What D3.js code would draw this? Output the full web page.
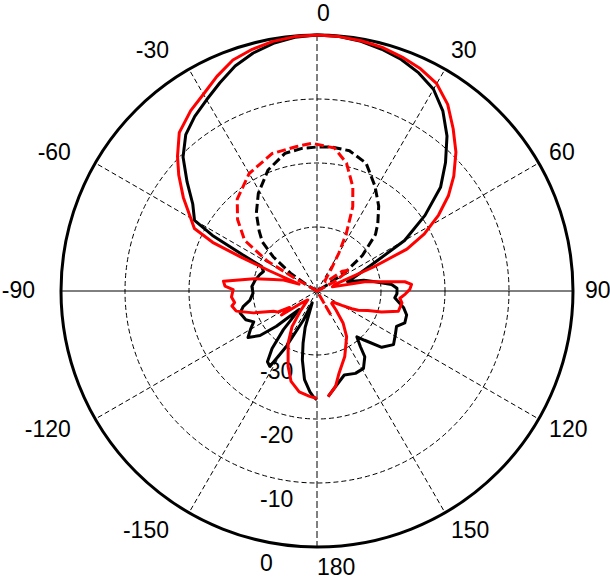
<!DOCTYPE html>
<html lang="en">
<meta charset="utf-8">
<style>
  body { margin: 0; background: #fff; }
  svg { display: block; }
  .grid { fill: none; stroke: #000; stroke-width: 1px; stroke-dasharray: 5,3; }
  .lbl { font-family: "Liberation Sans", Arial, sans-serif; font-size: 23px; fill: #000; }
  .trace { fill: none; stroke-width: 3px; stroke-linejoin: round; stroke-linecap: butt; }
</style>
<body>
<script src="https://cdn.jsdelivr.net/npm/d3@7"></script>
<script>
// angle ticks (deg, clockwise from top) and radial ticks (dB)
var angleTicks = [0, 30, 60, 90, 120, 150, 180, -150, -120, -90, -60, -30];
var radialTicks = [-30, -20, -10, 0];

// black solid trace
var blackSolidAngle = [-180,-178,-176,-172,-168,-165,-162,-158,-155,-151,-148,-145,-142,-139,-136,-133,-131,-128,-124,-120,
  -116,-112,-106,-102,-98,-92,-86,-80,-74,-70,-66,-64,-62,-60,-55,-50,-45,-40,-35,-30,-25,-20,-15,-10,-5,
  0,5,10,15,20,25,30,35,40,45,50,55,60,64,68,73,77,81,85,88,92,95,101,105,110,114,119,125,131,136,139,142,144,149,155,162,169,174];
var blackSolidDb = [-23,-23.5,-24.2,-26,-29,-31.6,-34,-38,-35,-30,-26.1,-26.5,-28.6,-32,-36,-34.2,-31.6,-28.7,-27,-28,
  -29,-28,-27.5,-28.2,-29.4,-30,-29.8,-30.2,-30.7,-31.1,-30.5,-27,-21.5,-17.9,-16.3,-13.5,-10.4,-8.1,-6.7,-5.5,-4.1,-2.6,-1.5,-0.7,-0.2,
  0,-0.1,-0.4,-0.9,-1.5,-2.4,-3.6,-5.7,-8.4,-11.6,-14.8,-19.4,-24.2,-30.2,-33,-35,-32.5,-30.8,-28.3,-27.5,-27.5,-27.8,-26.2,-25.5,-25.4,
  -26.4,-26,-25.4,-26.6,-29.3,-30.5,-29,-27.3,-25.9,-25.8,-26.2,-24.8,-23.4];

// red solid trace
var redSolidAngle = [-180,-176,-170,-164,-159,-151,-145,-140,-134,-128,-124,-121,-118,-115,-109,-104,-100,-98,-94,-89,
  -87,-84,-79,-75,-72,-69,-67,-66,-65,-63,-60,-55,-50,-46,-41,-35,-30,-25,-20,-15,-10,-5,
  0,5,10,15,20,25,30,35,40,45,50,54,58,62,65,67,70,75,79,84,86,89,92,95,98,104,108,111,115,117,120,125,130,135,141,147,157,165,169,174];
var redSolidDb = [-23.2,-23.5,-24,-25.3,-27.4,-30.7,-33.2,-36,-38,-37,-33.3,-35,-33,-32.5,-29.5,-27,-26.5,-27,-26.6,-26.9,
  -25.6,-25.3,-30,-33,-34.5,-37,-32,-27,-22,-18.5,-17.2,-14.5,-11.8,-9.7,-7.2,-5.6,-4.5,-3,-1.6,-0.9,-0.4,-0.1,
  0,-0.1,-0.3,-0.6,-1.1,-1.7,-2.6,-4.4,-6.9,-9.3,-12.1,-14.6,-17.6,-21,-24.5,-30.4,-37,-37.5,-32.4,-26.2,-25.2,-25.5,-26.2,-27,-26.6,
  -26.9,-29.4,-31.5,-32.9,-33.9,-35.5,-37,-37,-35.8,-33.5,-31.5,-28.9,-26.7,-24.8,-23.4];

// black dashed trace
var blackCrossAngle = [-62,-59,-56,-52,-48,-44,-38,-31,-22,-13,-6,0,6,13,21,29,36,42,46,52,56,59,62];
var blackCrossDb = [-40,-38,-35,-31.3,-28.5,-27,-24.6,-22.2,-19.6,-17.9,-17.6,-17.5,-17.4,-17.5,-18.6,-21.3,-23.6,-25.8,-27.3,-31,-34.5,-38,-40];

// red dashed trace
var redCrossAngle = [-63,-60,-59,-55,-48,-41,-30,-18,-8,-2,7,13,19,23,27,30,33,38,45,52,57,62,66,140,150,158];
var redCrossDb = [-40,-36,-31,-26.2,-23.3,-21,-18.8,-17.4,-17.2,-16.9,-17.5,-19.5,-22.8,-25.7,-29.9,-33.2,-36,-38,-38,-35,-34,-37,-40,-40,-35.5,-40];

var width = 610, height = 581, cx = 317, cy = 291, R = 256;

var svg = d3.select("body").append("svg")
    .attr("width", width)
    .attr("height", height);

var r = d3.scaleLinear().domain([-40, 0]).range([0, R]).clamp(true);
var rad = function (a) { return a * Math.PI / 180; };

var g = svg.append("g").attr("transform", "translate(" + cx + "," + cy + ")");

// grid circles
g.selectAll(".ring")
    .data(radialTicks.filter(function (d) { return d < 0; }))
    .enter().append("circle")
    .attr("class", "grid")
    .attr("r", function (d) { return r(d); });

// spokes
g.selectAll(".spoke")
    .data(angleTicks.filter(function (d) { return Math.abs(d) !== 90; }))
    .enter().append("line")
    .attr("class", "grid")
    .style("stroke-dasharray", function (d) { return (d === 0 || d === 180) ? "7,3" : null; })
    .attr("x1", 0).attr("y1", 0)
    .attr("x2", function (d) { return R * Math.sin(rad(d)); })
    .attr("y2", function (d) { return -R * Math.cos(rad(d)); });

g.append("line")
    .attr("x1", -R).attr("x2", R).attr("y1", 0).attr("y2", 0)
    .attr("stroke", "#000").attr("stroke-width", 1);

g.append("circle")
    .attr("r", R)
    .attr("fill", "none")
    .attr("stroke", "#000")
    .attr("stroke-width", 3);

// angle labels
var lr = 268;
g.selectAll(".alabel")
    .data(angleTicks)
    .enter().append("text")
    .attr("class", "lbl")
    .attr("x", function (d) { return lr * Math.sin(rad(d)) + (d < 0 ? -14 : 0); })
    .attr("y", function (d) { return -lr * Math.cos(rad(d)) + (1 - Math.cos(rad(d))) / 2 * 18 - 2; })
    .attr("text-anchor", function (d) { return d < 0 ? "end" : "start"; })
    .text(function (d) { return d; });

// radial labels
g.selectAll(".rlabel")
    .data(radialTicks)
    .enter().append("text")
    .attr("class", "lbl")
    .attr("x", -57)
    .attr("y", function (d) { return r(d) + 24; })
    .text(function (d) { return d; });

// traces
var line = d3.lineRadial()
    .angle(function (d) { return rad(d[0]); })
    .radius(function (d) { return r(d[1]); });

function series(angles, vals) {
    return angles.map(function (a, i) { return [a, vals[i]]; });
}

var traces = [
    { data: series(blackSolidAngle, blackSolidDb), color: "#000", dash: null },
    { data: series(blackCrossAngle, blackCrossDb), color: "#000", dash: "9,4" },
    { data: series(redSolidAngle, redSolidDb), color: "#ff0000", dash: null },
    { data: series(redCrossAngle, redCrossDb), color: "#ff0000", dash: "9,4" }
];

g.selectAll(".trace")
    .data(traces)
    .enter().append("path")
    .attr("class", "trace")
    .attr("stroke", function (d) { return d.color; })
    .style("stroke-dasharray", function (d) { return d.dash; })
    .attr("d", function (d) { return line(d.data); });
</script>
</body>
</html>
